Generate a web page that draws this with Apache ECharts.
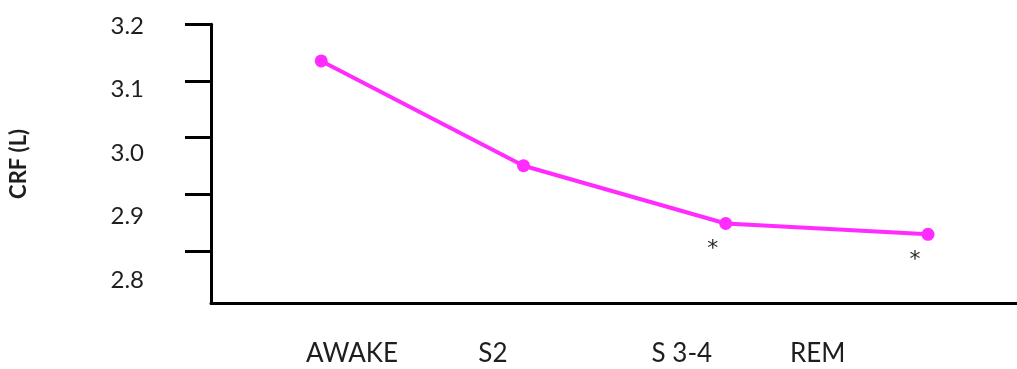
<!DOCTYPE html>
<html>
<head>
<meta charset="utf-8">
<title>CRF by sleep stage</title>
<script src="https://cdn.jsdelivr.net/npm/echarts@6/dist/echarts.min.js"></script>
<style>
  html, body { margin: 0; padding: 0; background: #fff; }
  #chart { width: 1017px; height: 369px; }
</style>
</head>
<body>
<div id="chart"></div>
<script>
// Sleep stages and mean CRF (litres) in each
const stages = ['AWAKE', 'S2', 'S 3-4', 'REM'];
const crf = [3.145, 2.98, 2.889, 2.872];
// Stages that differ significantly from AWAKE
const significant = [false, false, true, true];
const yTicks = [2.8, 2.9, 3.0, 3.1, 3.2];

const FONT = 'Lato, "Open Sans", sans-serif';
const TEXT = '#1e1e1e';
const LINE = '#ff2bff';

const chart = echarts.init(document.getElementById('chart'), null, { renderer: 'canvas' });

chart.setOption({
  animation: false,
  grid: { left: 210.5, right: 0, top: 24.3, bottom: 65.5, containLabel: false },
  xAxis: [
    {
      // position axis for the stage points
      type: 'value', min: 0.455, max: 4.44,
      axisLine: { show: true, onZero: false, lineStyle: { color: '#000', width: 3 } },
      axisTick: { show: false }, axisLabel: { show: false }, splitLine: { show: false }
    },
    {
      // stage names under the axis
      type: 'value', min: 0.455, max: 4.44, position: 'bottom',
      axisLine: { show: false }, axisTick: { show: false }, splitLine: { show: false },
      axisLabel: {
        show: true,
        customValues: [1.152, 1.849, 2.783, 3.455],
        formatter: (v) => {
          const at = [1.152, 1.849, 2.783, 3.455];
          const i = at.findIndex((p) => Math.abs(p - v) < 1e-6);
          return i >= 0 ? stages[i] : '';
        },
        margin: 37, fontFamily: FONT, fontSize: 26, color: TEXT,
        lineHeight: 26, verticalAlign: 'top'
      }
    }
  ],
  yAxis: [
    {
      // tick scale
      type: 'value', min: 2.707, max: 3.2,
      axisLine: { show: true, onZero: false, lineStyle: { color: '#000', width: 3 } },
      axisTick: { show: true, inside: false, length: 26, customValues: yTicks,
                  lineStyle: { color: '#000', width: 3 } },
      axisLabel: { show: false }, splitLine: { show: false },
      name: 'CRF (L)', nameLocation: 'middle', nameGap: 181,
      nameTextStyle: { fontFamily: FONT, fontWeight: 'bold', fontSize: 22, color: TEXT }
    },
    {
      // value labels
      type: 'value', min: 2.763, max: 3.2027, position: 'left',
      axisLine: { show: false }, axisTick: { show: false }, splitLine: { show: false },
      axisLabel: {
        show: true, customValues: yTicks,
        formatter: (v) => v.toFixed(1),
        margin: 67, fontFamily: FONT, fontSize: 24, color: TEXT
      }
    }
  ],
  series: [
    {
      type: 'line',
      xAxisIndex: 0, yAxisIndex: 1,
      data: crf.map((v, i) => ({
        value: [i + 1, v],
        label: significant[i]
          ? { show: true, formatter: '*', position: 'bottom', offset: [-13, 3],
              fontFamily: '"DejaVu Sans", sans-serif', fontSize: 22, color: '#2a2a2a' }
          : { show: false }
      })),
      symbol: 'circle', symbolSize: 13,
      lineStyle: { color: LINE, width: 4 },
      itemStyle: { color: LINE },
      z: 5
    }
  ]
});
</script>
</body>
</html>
